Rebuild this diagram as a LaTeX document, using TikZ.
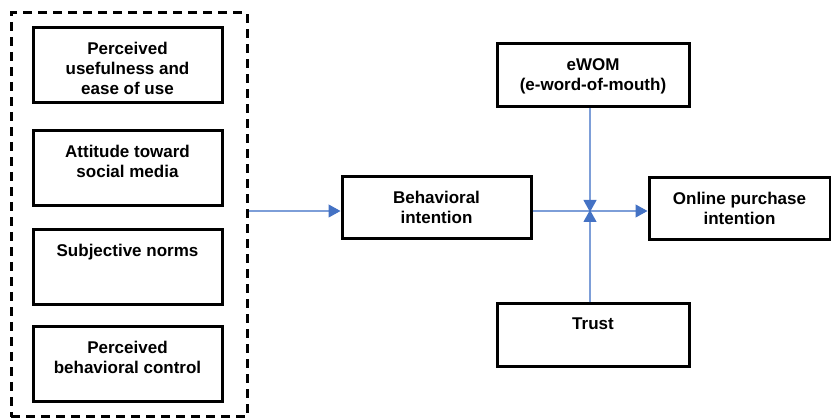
\documentclass[tikz,border=0pt]{standalone}
\usepackage{fontspec}
\setmainfont{Liberation Sans}
\usetikzlibrary{arrows.meta}

\definecolor{linkblue}{RGB}{125,158,216}
\definecolor{tipblue}{RGB}{68,114,196}

\begin{document}
\begin{tikzpicture}[x=1pt,y=-1pt,
   box/.style={draw,line width=3pt,minimum width=189pt,minimum height=75pt,inner sep=0pt},
   txt/.style={anchor=north,align=center,inner sep=0pt,yshift=-15.5pt,
               font=\fontsize{17}{20}\selectfont\bfseries},
   link/.style={draw=linkblue,line width=1.1pt,
                -{Triangle[width=13pt,length=12pt,color=tipblue]}}]
   \useasboundingbox (0,0) rectangle (831,419);

   % 左側の四つの要因
   \node[draw,line width=3pt,dash pattern=on 9pt off 6pt,
         minimum width=236pt,minimum height=404pt] (group) at (129,215) {};
   \node[box] (puse) at (127.5,65.5) {};
   \node[txt] at (puse.north) {Perceived\\usefulness and\\ease of use};
   \node[box] (att) at (127.5,168.5) {};
   \node[txt] at (att.north) {Attitude toward\\social media};
   \node[box] (norm) at (127.5,267) {};
   \node[txt] at (norm.north) {Subjective norms};
   \node[box] (pbc) at (127.5,364) {};
   \node[txt] at (pbc.north) {Perceived\\behavioral control};

   % 右側
   \node[box,minimum height=62pt] (bi) at (436.5,208) {};
   \node[txt] at (bi.north) {Behavioral\\intention};
   \node[box,minimum width=192pt,minimum height=63pt] (ewom) at (593,75.5) {};
   \node[txt] at (ewom.north) {eWOM\\(e-word-of-mouth)};
   \node[box,minimum width=192pt,minimum height=63pt] (trust) at (593,335.5) {};
   \node[txt] at (trust.north) {Trust};
   \node[box,minimum width=181pt,minimum height=62pt] (opi) at (739.5,208.5) {};
   \node[txt] at (opi.north) {Online purchase\\intention};

   % 矢印
   \coordinate (hub) at (590,211);
   \draw[link] (group.east |- hub) -- (bi.west |- hub);
   \draw[link] (bi.east |- hub) -- (opi.west |- hub);
   \draw[link] (ewom.south -| hub) -- ([yshift=-1pt]hub);
   \draw[link] (trust.north -| hub) -- ([yshift=1pt]hub);
\end{tikzpicture}
\end{document}
